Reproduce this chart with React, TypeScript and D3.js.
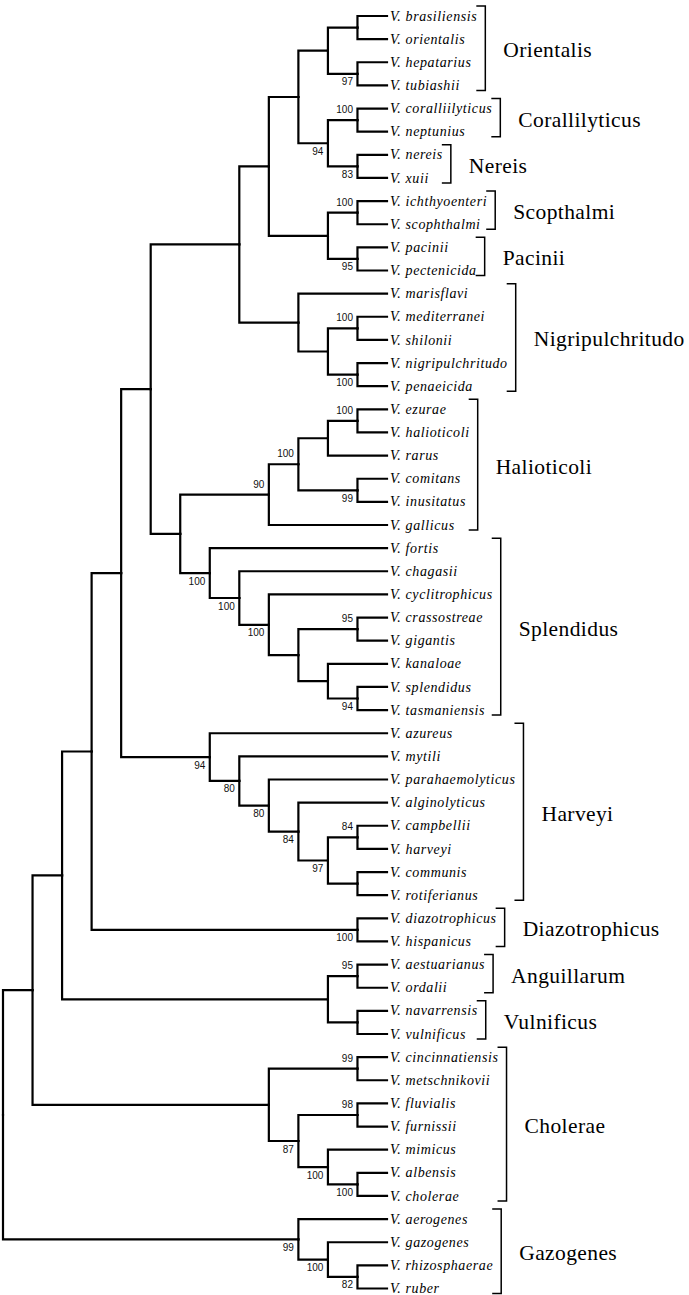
import React, { useMemo } from 'react';
import * as d3 from 'd3';

// Tree topology (Newick), internal labels are bootstrap supports
const TREE_NEWICK = `(
 (
  (
   (
    (
     (
      (
       (
        (
         ((brasiliensis,orientalis),(hepatarius,tubiashii)97),
         ((coralliilyticus,neptunius)100,(nereis,xuii)83)94
        ),
        ((ichthyoenteri,scophthalmi)100,(pacinii,pectenicida)95)
       ),
       (marisflavi,((mediterranei,shilonii)100,(nigripulchritudo,penaeicida)100))
      ),
      (
       ((((ezurae,halioticoli)100,rarus),(comitans,inusitatus)99)100,gallicus)90,
       (fortis,(chagasii,(cyclitrophicus,((crassostreae,gigantis)95,(kanaloae,(splendidus,tasmaniensis)94)))100)100)100
      )
     ),
     (azureus,(mytili,(parahaemolyticus,(alginolyticus,((campbellii,harveyi)84,(communis,rotiferianus))97)84)80)80)94
    ),
    (diazotrophicus,hispanicus)100
   ),
   ((aestuarianus,ordalii)95,(navarrensis,vulnificus))
  ),
  ((cincinnatiensis,metschnikovii)99,((fluvialis,furnissii)98,(mimicus,(albensis,cholerae)100)100)87)
 ),
 (aerogenes,(gazogenes,(rhizosphaerae,ruber)82)100)99
);`;

const GENUS_PREFIX = 'V. ';

const CLADE_NAMES = ['Orientalis', 'Corallilyticus', 'Nereis', 'Scopthalmi', 'Pacinii', 'Nigripulchritudo', 'Halioticoli', 'Splendidus', 'Harveyi', 'Diazotrophicus', 'Anguillarum', 'Vulnificus', 'Cholerae', 'Gazogenes'];
const CLADE_FIRST = ['brasiliensis', 'coralliilyticus', 'nereis', 'ichthyoenteri', 'pacinii', 'marisflavi', 'ezurae', 'fortis', 'azureus', 'diazotrophicus', 'aestuarianus', 'navarrensis', 'cincinnatiensis', 'aerogenes'];
const CLADE_LAST = ['tubiashii', 'neptunius', 'xuii', 'scophthalmi', 'pectenicida', 'penaeicida', 'gallicus', 'tasmaniensis', 'rotiferianus', 'hispanicus', 'ordalii', 'vulnificus', 'cholerae', 'ruber'];

type TNode = { name?: string; support?: number; children?: TNode[] };

function parseNewick(src: string): TNode {
  const s = src.replace(/\s+/g, '');
  let i = 0;
  function node(): TNode {
    const n: TNode = {};
    if (s[i] === '(') {
      i++;
      n.children = [];
      for (;;) {
        n.children.push(node());
        if (s[i] === ',') { i++; continue; }
        if (s[i] === ')') { i++; break; }
        break;
      }
    }
    let label = '';
    while (i < s.length && !',();'.includes(s[i])) label += s[i++];
    if (n.children) { if (label) n.support = +label; } else n.name = label;
    return n;
  }
  return node();
}

const W = 689;
const H = 1295;
const LEAF_FONT = "'Liberation Serif', 'Times New Roman', serif";
const LEAF_SIZE = 14;
const LEAF_LS = 0.6;

function measure(text: string): number {
  const c = document.createElement('canvas').getContext('2d');
  if (!c) return text.length * 6.5;
  c.font = `italic ${LEAF_SIZE}px ${LEAF_FONT}`;
  return c.measureText(text).width + LEAF_LS * text.length;
}

export default function App() {
  const { links, leaves, supports, brackets } = useMemo(() => {
    const root = d3.hierarchy<TNode>(parseNewick(TREE_NEWICK));
    d3.cluster<TNode>().size([1, 1]).separation(() => 1)(root);
    const lv = root.leaves();
    const yS = d3.scaleLinear().domain([lv[0].x as number, lv[lv.length - 1].x as number]).range([16, 1288.5]);
    const xS = d3.scaleLinear().domain([0, 1]).range([3, 387]);
    const P = (n: d3.HierarchyNode<TNode>) => ({ x: xS((n as any).y), y: yS((n as any).x) });

    const links = root.links().map((l) => {
      const p = P(l.source), c = P(l.target);
      return `M${p.x},${p.y}V${c.y}H${c.x}`;
    });
    const leaves = lv.map((n) => ({ ...P(n), name: n.data.name as string }));
    const supports: { x: number; y: number; v: number; above: boolean }[] = [];
    root.descendants().forEach((n) => {
      if (n.data.support != null && n.parent) {
        const p = P(n);
        const sib = n.parent.children as any[];
        supports.push({ x: p.x, y: p.y, v: n.data.support, above: sib.indexOf(n) === 0 });
      }
    });
    const byName = new Map(leaves.map((l) => [l.name, l]));
    const brackets = CLADE_NAMES.map((name, k) => {
      const i0 = leaves.findIndex((l) => l.name === CLADE_FIRST[k]);
      const i1 = leaves.findIndex((l) => l.name === CLADE_LAST[k]);
      const members = leaves.slice(i0, i1 + 1);
      const maxW = d3.max(members, (m) => measure(GENUS_PREFIX + m.name)) as number;
      const bx = 390 + maxW + 8;
      const y0 = (byName.get(CLADE_FIRST[k]) as any).y;
      const y1 = (byName.get(CLADE_LAST[k]) as any).y;
      return { name, bx, y0, y1 };
    });
    return { links, leaves, supports, brackets };
  }, []);

  return (
    <svg width={W} height={H} style={{ position: 'absolute', left: 0, top: 0, background: '#fff' }}>
      <rect width={W} height={H} fill="#fff" />
      <g fill="none" stroke="#000" strokeWidth={2.2} strokeLinecap="square" strokeLinejoin="miter">
        {links.map((d, i) => <path key={i} d={d} />)}
      </g>
      <g fontFamily={LEAF_FONT} fontStyle="italic" fontSize={LEAF_SIZE} letterSpacing={LEAF_LS} fill="#000">
        {leaves.map((l) => (
          <text key={l.name} x={390} y={l.y} dy="0.33em">{GENUS_PREFIX + l.name}</text>
        ))}
      </g>
      <g fontFamily="'Liberation Sans', Arial, sans-serif" fontSize={10} fill="#111" textAnchor="end">
        {supports.map((s, i) => (
          <text key={i} x={s.x - 4.5} y={s.above ? s.y - 10.5 : s.y + 8} dy="0.35em">{s.v}</text>
        ))}
      </g>
      <g stroke="#000" strokeWidth={1.5} fill="none">
        {brackets.map((b) => (
          <path key={b.name} d={`M${b.bx - 9},${b.y0 - 10}H${b.bx}V${b.y1 + 5}H${b.bx - 9}`} />
        ))}
      </g>
      <g fontFamily={LEAF_FONT} fontSize={21.5} letterSpacing={0.4} fill="#000">
        {brackets.map((b) => (
          <text key={b.name} x={b.bx + 18} y={(b.y0 + b.y1) / 2 - 1} dy="0.35em">{b.name}</text>
        ))}
      </g>
    </svg>
  );
}
